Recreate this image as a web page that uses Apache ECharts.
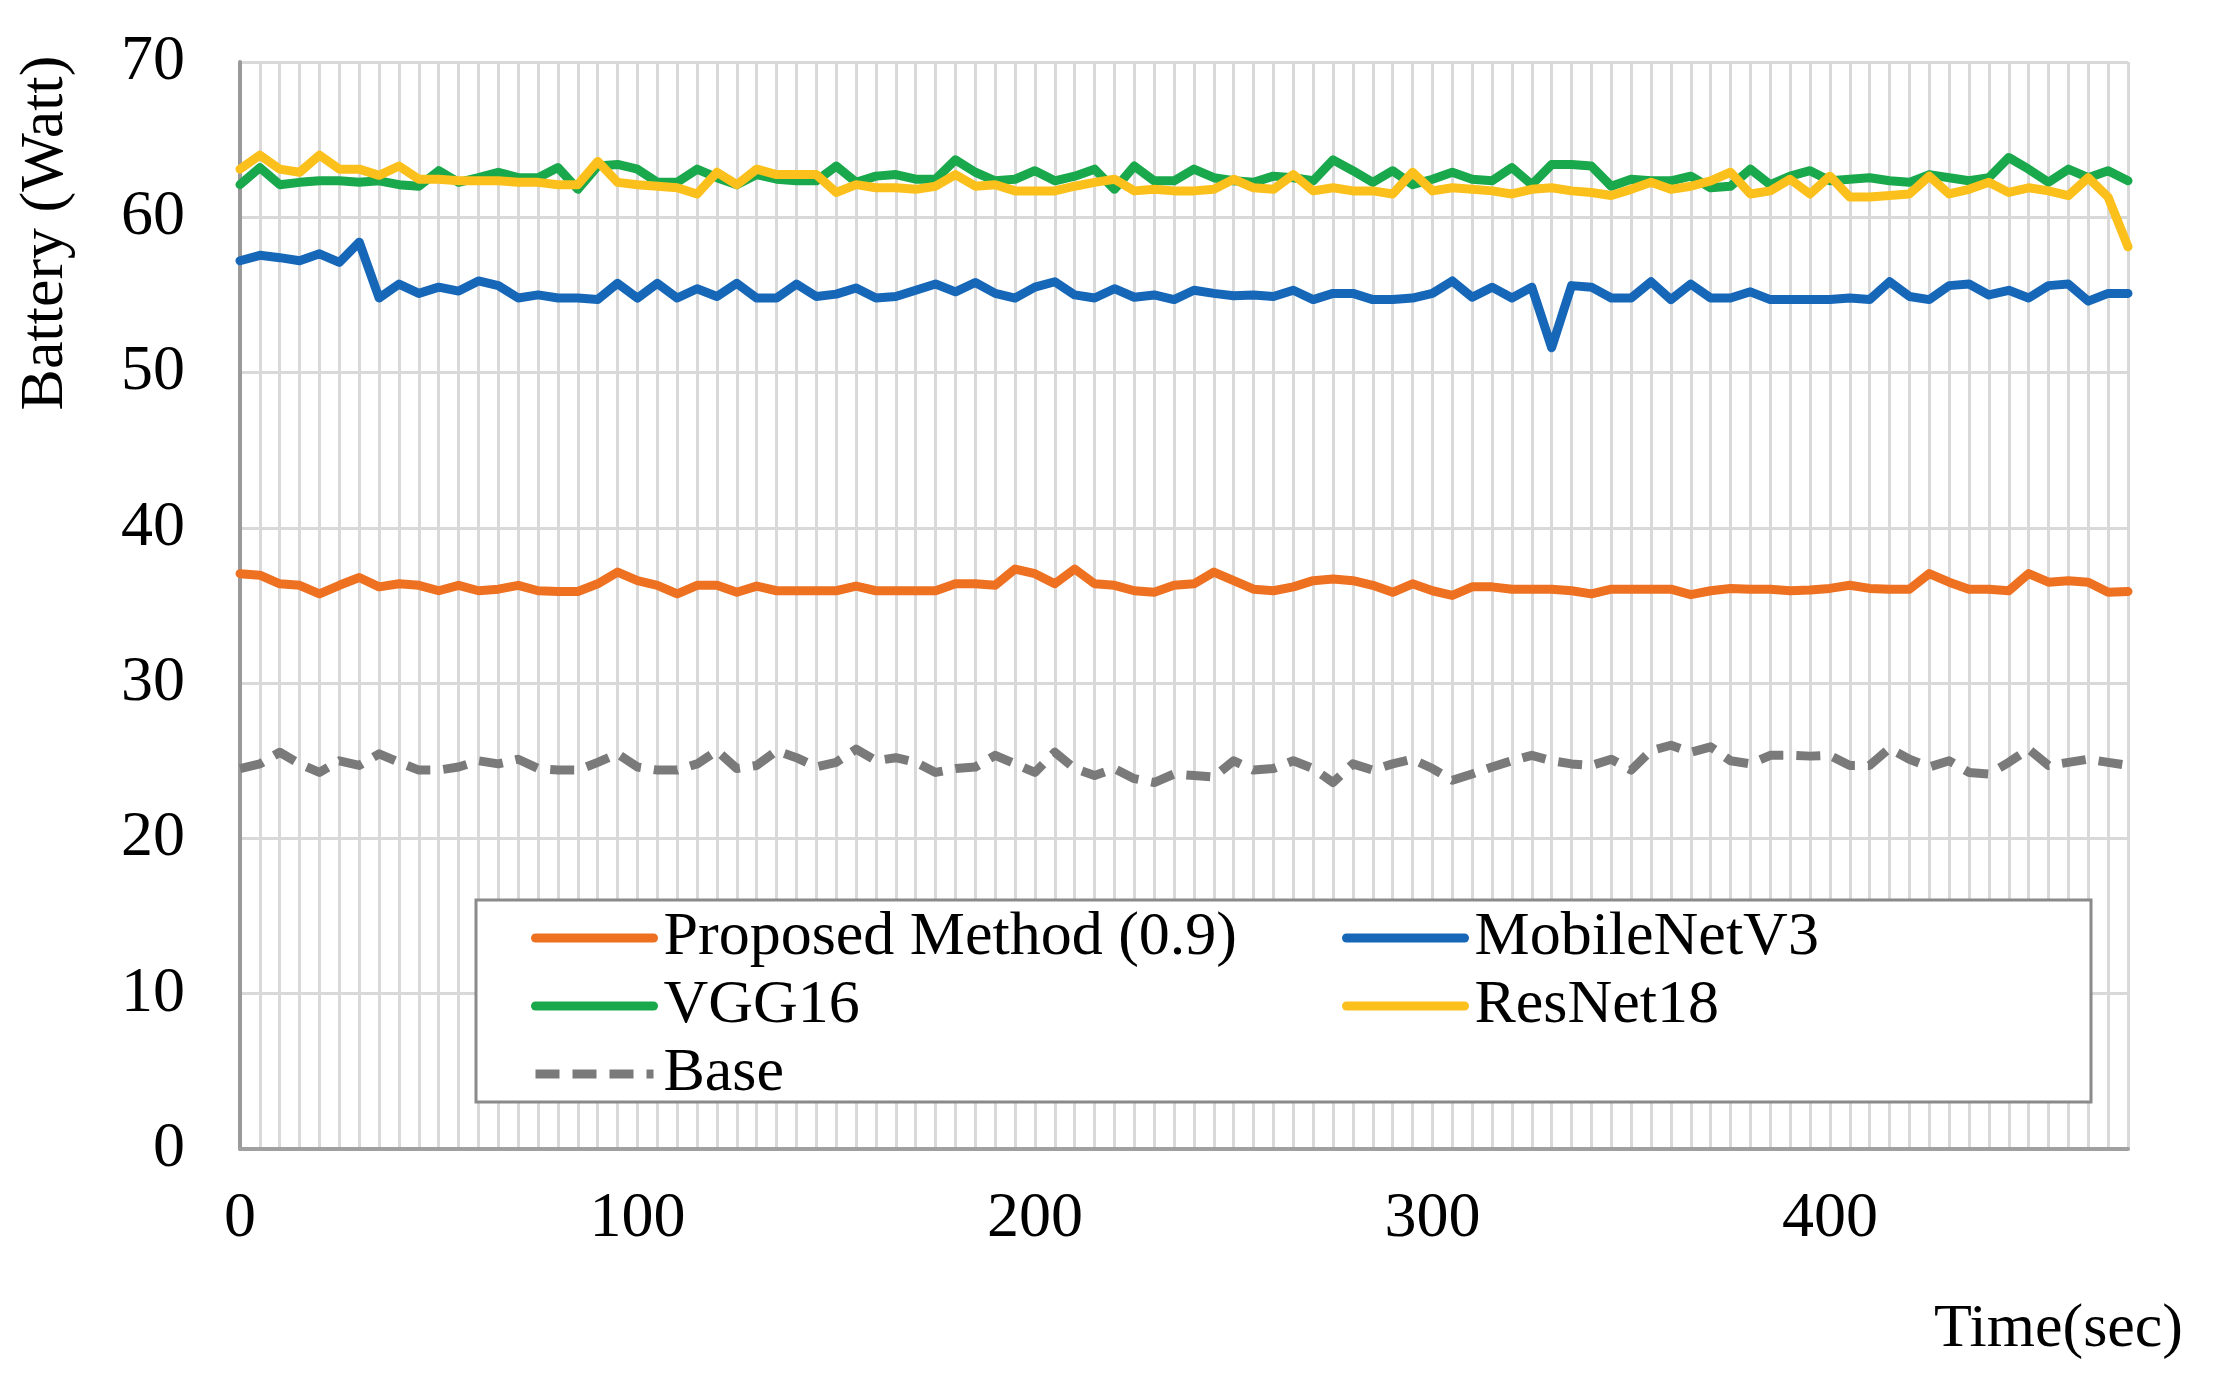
<!DOCTYPE html>
<html>
<head>
<meta charset="utf-8">
<script src="https://cdn.jsdelivr.net/npm/echarts@6/dist/echarts.min.js"></script>
<style>
html,body{margin:0;padding:0;background:#fff;}
#chart{width:2219px;height:1382px;}
</style>
</head>
<body>
<div id="chart"></div>
<script>
// Time axis categories (seconds, every 5 s)
const times = [];
for (let t = 0; t <= 475; t += 5) times.push(t);

const proposed = [
  37.05, 36.95, 36.4, 36.3, 35.75, 36.3, 36.8, 36.2, 36.4, 36.3, 35.95, 36.3, 35.95, 36.05, 36.3, 35.95, 35.9, 35.9, 36.4, 37.15, 36.6, 36.3, 35.75, 36.3, 36.3, 35.85, 36.25, 35.95, 35.95, 35.95, 35.95, 36.25, 35.95,
  35.95, 35.95, 35.95, 36.4, 36.4, 36.3, 37.35, 37.05, 36.4, 37.35, 36.4, 36.3, 35.95, 35.85, 36.3, 36.4, 37.15, 36.6, 36.05, 35.95, 36.2, 36.6, 36.7, 36.6, 36.3, 35.85, 36.4, 35.95, 35.65, 36.2, 36.2, 36.05,
  36.05, 36.05, 35.95, 35.75, 36.05, 36.05, 36.05, 36.05, 35.7, 35.95, 36.1, 36.05, 36.05, 35.95, 36.0, 36.1, 36.3, 36.1, 36.05, 36.05, 37.05, 36.5, 36.05, 36.05, 35.95, 37.05, 36.5, 36.6, 36.5, 35.85, 35.9
];
const mobilenet = [
  57.2, 57.55, 57.4, 57.2, 57.65, 57.1, 58.4, 54.8, 55.7, 55.1, 55.5, 55.25, 55.9, 55.6, 54.8, 55.0, 54.8, 54.8, 54.7, 55.75, 54.8, 55.75, 54.8, 55.4, 54.9, 55.75, 54.8, 54.8, 55.7, 54.9, 55.05, 55.45, 54.8,
  54.9, 55.3, 55.7, 55.2, 55.8, 55.1, 54.8, 55.5, 55.85, 55.0, 54.8, 55.4, 54.85, 55.0, 54.7, 55.3, 55.1, 54.95, 55.0, 54.9, 55.3, 54.7, 55.1, 55.1, 54.7, 54.7, 54.8, 55.1, 55.9, 54.85, 55.5, 54.8,
  55.5, 51.6, 55.6, 55.5, 54.8, 54.8, 55.85, 54.7, 55.7, 54.8, 54.8, 55.2, 54.7, 54.7, 54.7, 54.7, 54.8, 54.7, 55.85, 54.9, 54.7, 55.6, 55.7, 55.0, 55.3, 54.8, 55.6, 55.7, 54.6, 55.1, 55.1
];
const vgg16 = [
  62.1, 63.2, 62.1, 62.25, 62.35, 62.35, 62.25, 62.35, 62.1, 62.0, 63.0, 62.25, 62.55, 62.9, 62.55, 62.55, 63.2, 61.8, 63.3, 63.4, 63.1, 62.25, 62.25, 63.1, 62.55, 62.1, 62.75, 62.45, 62.35, 62.35, 63.3, 62.25, 62.65,
  62.75, 62.45, 62.45, 63.7, 62.9, 62.35, 62.45, 63.0, 62.35, 62.65, 63.1, 61.8, 63.3, 62.35, 62.35, 63.1, 62.55, 62.35, 62.25, 62.65, 62.55, 62.35, 63.7, 63.0, 62.25, 63.0, 62.1, 62.45, 62.9, 62.45, 62.35, 63.2,
  62.1, 63.4, 63.4, 63.3, 62.0, 62.45, 62.35, 62.35, 62.65, 61.9, 62.0, 63.1, 62.1, 62.65, 63.0, 62.35, 62.45, 62.55, 62.35, 62.25, 62.75, 62.55, 62.35, 62.55, 63.85, 63.1, 62.25, 63.1, 62.55, 63.0, 62.35
];
const resnet18 = [
  63.1, 64.0, 63.1, 62.9, 64.0, 63.1, 63.1, 62.7, 63.3, 62.45, 62.45, 62.35, 62.35, 62.35, 62.25, 62.25, 62.1, 62.1, 63.6, 62.25, 62.1, 62.0, 61.9, 61.5, 62.9, 62.1, 63.1, 62.75, 62.75, 62.75, 61.6, 62.1, 61.9,
  61.9, 61.8, 62.0, 62.75, 62.0, 62.1, 61.7, 61.7, 61.7, 62.0, 62.25, 62.45, 61.7, 61.8, 61.7, 61.7, 61.8, 62.45, 61.9, 61.8, 62.75, 61.7, 61.9, 61.7, 61.7, 61.5, 62.9, 61.7, 61.9, 61.8, 61.7, 61.5,
  61.8, 61.9, 61.7, 61.6, 61.4, 61.8, 62.25, 61.8, 62.0, 62.35, 62.9, 61.5, 61.7, 62.45, 61.5, 62.65, 61.3, 61.3, 61.4, 61.5, 62.65, 61.5, 61.8, 62.25, 61.6, 61.9, 61.7, 61.4, 62.55, 61.3, 58.1
];
const base = [
  24.5, 24.8, 25.55, 24.8, 24.25, 25.0, 24.7, 25.45, 24.9, 24.4, 24.4, 24.6, 25.0, 24.8, 25.1, 24.5, 24.4, 24.4, 24.9, 25.45, 24.6, 24.4, 24.4, 24.8, 25.65, 24.5, 24.7, 25.65, 25.2, 24.6, 24.9, 25.75, 25.0,
  25.2, 24.9, 24.25, 24.5, 24.6, 25.35, 24.8, 24.25, 25.55, 24.5, 24.05, 24.5, 23.85, 23.6, 24.15, 24.05, 23.95, 25.0, 24.4, 24.5, 25.0, 24.5, 23.6, 24.8, 24.4, 24.8, 25.1, 24.5, 23.75, 24.15, 24.6, 25.0,
  25.35, 25.0, 24.8, 24.7, 25.1, 24.4, 25.65, 26.0, 25.55, 25.9, 25.0, 24.8, 25.35, 25.35, 25.3, 25.35, 24.7, 24.7, 25.8, 25.1, 24.6, 25.0, 24.25, 24.15, 24.9, 25.75, 24.7, 24.9, 25.1, 24.9, 24.7
];

const seriesNames = ['Proposed Method (0.9)', 'MobileNetV3', 'VGG16', 'ResNet18', 'Base'];
const seriesColors = ['#EE7021', '#1667B8', '#1AA84C', '#FBC01B', '#7A7A7A'];
const yTitle = 'Battery (Watt)';
const xTitle = 'Time(sec)';

const FONT = '"Liberation Serif", "Times New Roman", serif';

const chart = echarts.init(document.getElementById('chart'), null, {renderer: 'canvas'});

const dataSets = [proposed, mobilenet, vgg16, resnet18, base];
const series = dataSets.map((d, k) => ({
  name: seriesNames[k],
  type: 'line',
  data: d,
  symbol: 'none',
  smooth: false,
  z: 2 + k,
  lineStyle: {
    color: seriesColors[k],
    width: 9,
    type: k === 4 ? [24, 13] : 'solid',
    cap: k === 4 ? 'butt' : 'round',
    join: 'round'
  },
  itemStyle: {color: seriesColors[k]}
}));

const legendCommon = {
  orient: 'vertical',
  itemWidth: 118,
  itemHeight: 20,
  itemGap: 6,
  z: 20,
  selectedMode: false,
  textStyle: {fontFamily: FONT, fontSize: 62, color: '#000', padding: [0, 0, 0, 5]},
  itemStyle: {opacity: 0},
  lineStyle: {width: 9}
};

chart.setOption({
  animation: false,
  backgroundColor: '#fff',
  grid: {left: 240, right: 91, top: 62, bottom: 233, containLabel: false},
  xAxis: {
    type: 'category',
    data: times,
    boundaryGap: false,
    axisLine: {show: true, lineStyle: {color: '#a0a0a0', width: 4}},
    axisTick: {show: false},
    axisLabel: {
      interval: 19,
      fontFamily: FONT, fontSize: 64, color: '#000', margin: 38
    },
    splitLine: {show: true, interval: 0, lineStyle: {color: '#d9d9d9', width: 3}}
  },
  yAxis: {
    type: 'value',
    min: 0, max: 70, interval: 10,
    axisLine: {show: true, lineStyle: {color: '#9a9a9a', width: 4}},
    axisTick: {show: false},
    axisLabel: {fontFamily: FONT, fontSize: 64, color: '#000', margin: 55},
    splitLine: {show: true, lineStyle: {color: '#d9d9d9', width: 3}}
  },
  legend: [
    Object.assign({}, legendCommon, {left: 526, top: 902, data: [seriesNames[0], seriesNames[2], seriesNames[4]]}),
    Object.assign({}, legendCommon, {left: 1337, top: 902, data: [seriesNames[1], seriesNames[3]]})
  ],
  graphic: [
    {type: 'rect', z: 10, shape: {x: 476, y: 900, width: 1615, height: 202},
     style: {fill: '#fff', stroke: '#8a8a8a', lineWidth: 3}},
    {type: 'text', z: 10, x: 46, y: 233, rotation: Math.PI / 2,
     style: {text: yTitle, font: '62px ' + FONT, fill: '#000', textAlign: 'center', textVerticalAlign: 'middle', verticalAlign: 'middle'}},
    {type: 'text', z: 10, x: 2183, y: 1330,
     style: {text: xTitle, font: '62px ' + FONT, fill: '#000', textAlign: 'right', textVerticalAlign: 'middle', verticalAlign: 'middle'}}
  ],
  series: series
});
</script>
</body>
</html>
